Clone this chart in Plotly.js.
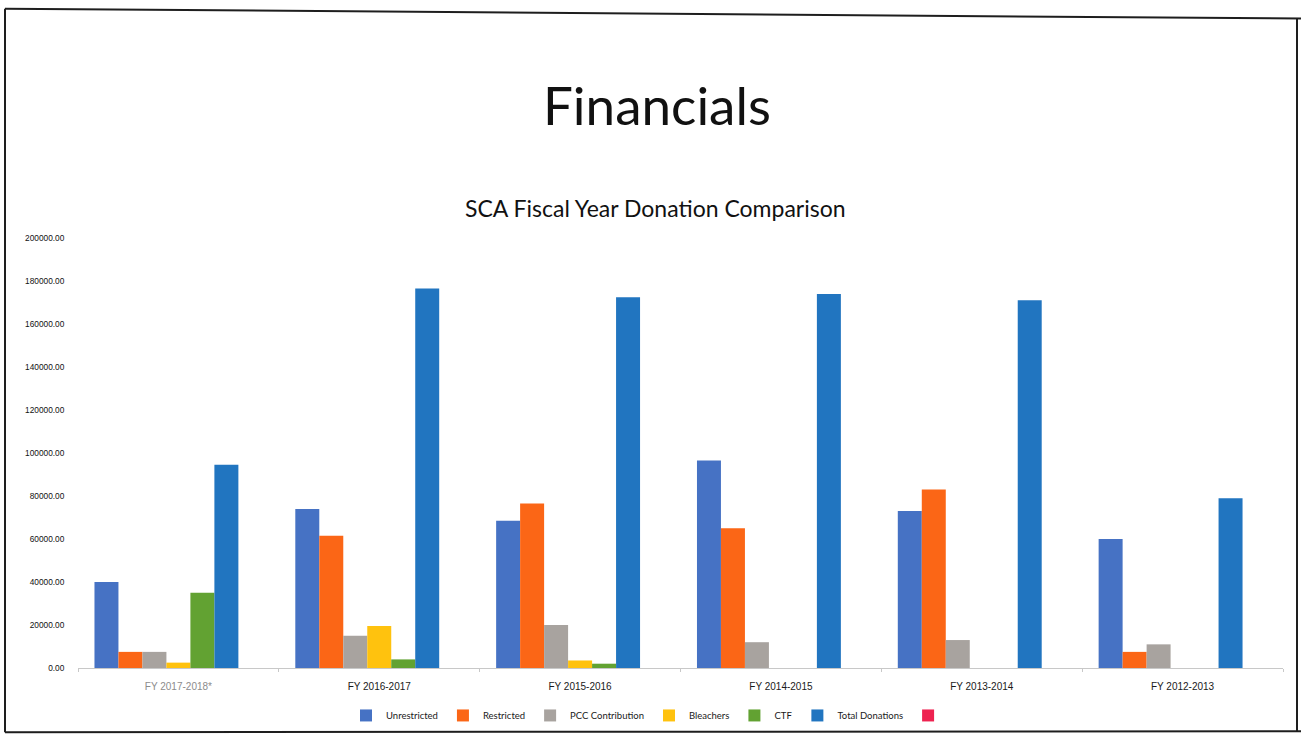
<!DOCTYPE html>
<html>
<head>
<meta charset="utf-8">
<script src="https://cdn.plot.ly/plotly-3.0.1.min.js"></script>
<style>
  html, body { margin: 0; padding: 0; background: #ffffff; }
  #chart { width: 1301px; height: 742px; }
</style>
</head>
<body>
<div id="chart"></div>
<script>
// ---- data ----
const categories = ['FY 2017-2018*', 'FY 2016-2017', 'FY 2015-2016', 'FY 2014-2015', 'FY 2013-2014', 'FY 2012-2013'];
const categoryColors = ['#8c8c8c', '#1a1a1a', '#1a1a1a', '#1a1a1a', '#1a1a1a', '#1a1a1a'];
const unrestricted = [40000, 74000, 68500, 96500, 73000, 60000];
const restricted   = [7500, 61500, 76500, 65000, 83000, 7500];
const pcc          = [7500, 15000, 20000, 12000, 13000, 11000];
const bleachers    = [2500, 19500, 3500, null, null, null];
const ctf          = [35000, 4000, 2000, null, null, null];
const totalDon     = [94500, 176500, 172500, 174000, 171000, 79000];
const unnamed      = [null, null, null, null, null, null];
const yTicks = [0, 20000, 40000, 60000, 80000, 100000, 120000, 140000, 160000, 180000, 200000];

const seriesNames  = ['Unrestricted', 'Restricted', 'PCC Contribution', 'Bleachers', 'CTF', 'Total Donations', ' '];
const seriesValues = [unrestricted, restricted, pcc, bleachers, ctf, totalDon, unnamed];
const seriesColors = ['#4672c4', '#fb6616', '#a8a39f', '#ffc20e', '#62a232', '#2175c0', '#ee2250'];

const traces = seriesNames.map((n, i) => ({
  type: 'bar',
  name: n,
  x: categories,
  y: seriesValues[i],
  marker: { color: seriesColors[i], line: { width: 0 } },
  hoverinfo: 'x+y+name'
}));

// pixel -> paper helpers for the slide frame
const L = 78, R = 18, T = 238, B = 69, W = 1301, H = 742;
const pw = W - L - R, ph = H - T - B;
const px = v => (v - L) / pw;
const py = v => (H - B - v) / ph;
const frame = (x0, y0, x1, y1) => ({
  type: 'line', xref: 'paper', yref: 'paper',
  x0: px(x0), y0: py(y0), x1: px(x1), y1: py(y1),
  line: { color: '#1e1e1e', width: 2 }
});

const layout = {
  width: W, height: H,
  margin: { l: L, r: R, t: T, b: B, pad: 0 },
  paper_bgcolor: '#ffffff',
  plot_bgcolor: '#ffffff',
  barmode: 'group',
  bargap: 0.164,
  bargroupgap: 0,
  font: { family: 'Lato, "Liberation Sans", Arial, sans-serif', color: '#1a1a1a' },
  showlegend: true,
  legend: {
    orientation: 'h',
    x: px(651), xanchor: 'center',
    y: py(721), yanchor: 'middle',
    bgcolor: 'rgba(0,0,0,0)',
    font: { size: 9.5, color: '#1a1a1a' },
    itemwidth: 30,
    traceorder: 'normal'
  },
  xaxis: {
    type: 'category',
    tickmode: 'array',
    tickvals: categories,
    ticktext: categories.map((c, i) => `<span style="color:${categoryColors[i]}">${c}</span>`),
    tickfont: { size: 10, family: '"Liberation Sans", Arial, sans-serif' },
    ticklabelstandoff: 9,
    showline: true,
    linecolor: '#c8c8c8',
    linewidth: 1,
    ticks: 'outside',
    tickson: 'boundaries',
    ticklen: 3,
    tickcolor: '#c8c8c8',
    showgrid: false,
    zeroline: false,
    fixedrange: true
  },
  yaxis: {
    range: [0, 200000],
    tickmode: 'array',
    tickvals: yTicks,
    ticktext: yTicks.map(v => v.toFixed(2)),
    tickfont: { size: 8.3, family: '"Liberation Sans", Arial, sans-serif', color: '#111111' },
    ticks: 'outside',
    ticklen: 11,
    tickcolor: 'rgba(0,0,0,0)',
    showline: false,
    showgrid: false,
    zeroline: false,
    fixedrange: true
  },
  annotations: [
    {
      text: 'Financials', xref: 'paper', yref: 'paper',
      x: px(657), y: py(103), xanchor: 'center', yanchor: 'middle',
      showarrow: false,
      font: { size: 53, family: 'Lato, "Open Sans", sans-serif', color: '#111111' }
    },
    {
      text: 'SCA Fiscal Year Donation Comparison', xref: 'paper', yref: 'paper',
      x: px(655), y: py(208), xanchor: 'center', yanchor: 'middle',
      showarrow: false,
      font: { size: 23, family: 'Lato, "Open Sans", sans-serif', color: '#111111' }
    }
  ],
  shapes: [
    frame(5, 6, 1301, 16),
    frame(5, 6, 5, 738),
    frame(5, 738, 1301, 737),
    frame(1297, 16, 1297, 737)
  ]
};

Plotly.newPlot('chart', traces, layout, { displayModeBar: false, staticPlot: true });
</script>
</body>
</html>
